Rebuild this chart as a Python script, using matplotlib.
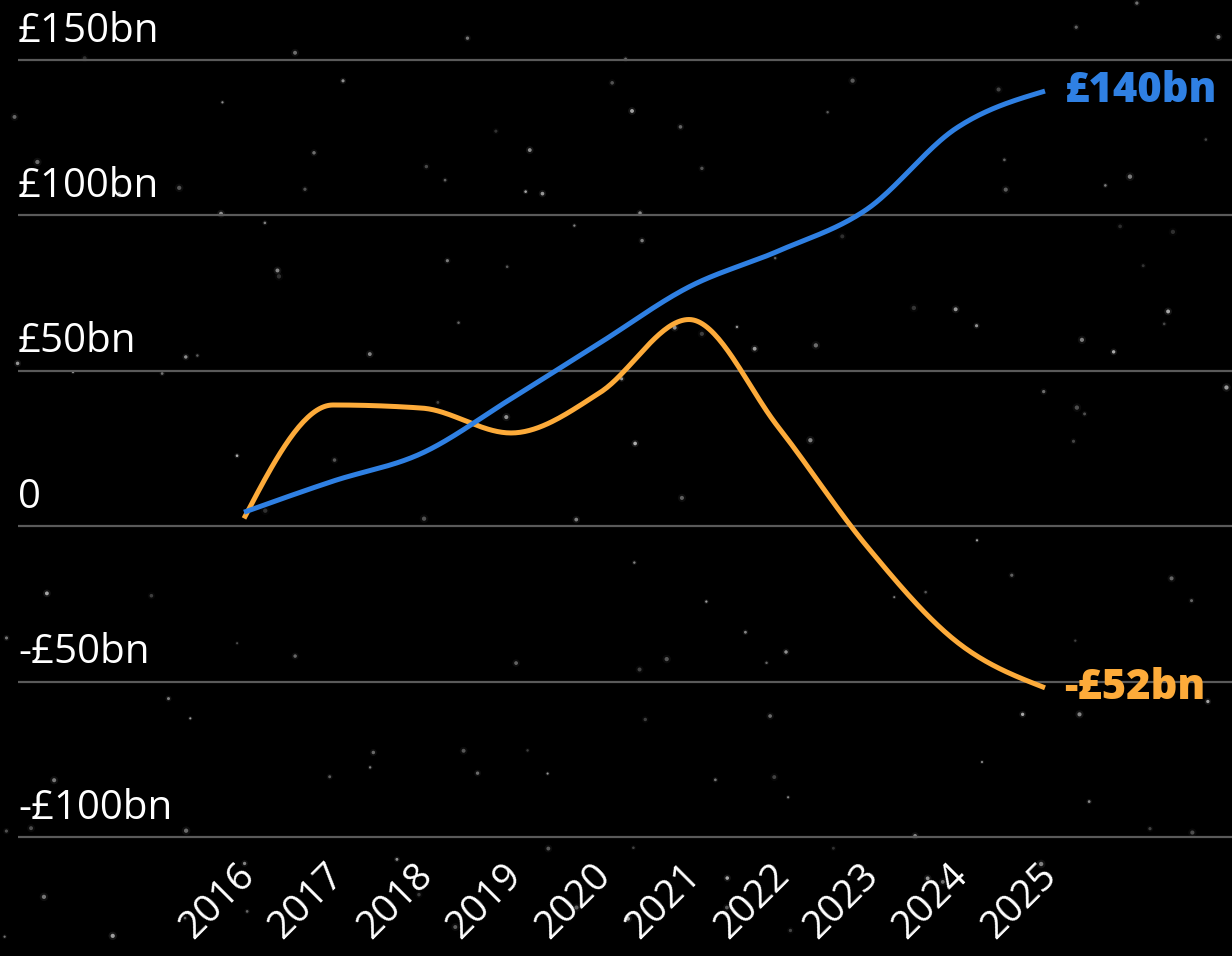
import numpy as np
import matplotlib
matplotlib.use('Agg')
import matplotlib.pyplot as plt
import matplotlib.transforms as mtransforms

years = [2016, 2017, 2018, 2019, 2020, 2021, 2022, 2023, 2024, 2025]
blue_values = [4.5, 14.5, 23.5, 41, 59, 77, 88.5, 102, 128, 140]
orange_values = [2.5, 39, 38, 30, 43, 66.5, 32, -6.5, -37, -52]
y_ticks = [150, 100, 50, 0, -50, -100]
y_tick_labels = ['£150bn', '£100bn', '£50bn', '0', '-£50bn', '-£100bn']
blue_label = '£140bn'
orange_label = '-£52bn'

BLUE = '#2f80e3'
ORANGE = '#fdab3a'


def monotone_curve(x, y, n=40):
    # d3-style monotoneX smoothing, only for drawing the line
    x = np.asarray(x, float)
    y = np.asarray(y, float)
    h = np.diff(x)
    s = np.diff(y) / h
    m = np.zeros(len(x))
    for i in range(1, len(x) - 1):
        p = (s[i - 1] * h[i] + s[i] * h[i - 1]) / (h[i - 1] + h[i])
        m[i] = (np.sign(s[i - 1]) + np.sign(s[i])) * min(abs(s[i - 1]), abs(s[i]), 0.5 * abs(p))
    m[0] = (3 * s[0] - m[1]) / 2
    m[-1] = (3 * s[-1] - m[-2]) / 2
    xs, ys = [], []
    for i in range(len(x) - 1):
        t = np.linspace(0, 1, n)
        h00 = 2 * t**3 - 3 * t**2 + 1
        h10 = t**3 - 2 * t**2 + t
        h01 = -2 * t**3 + 3 * t**2
        h11 = t**3 - t**2
        xs.append(x[i] + t * h[i])
        ys.append(h00 * y[i] + h10 * h[i] * m[i] + h01 * y[i + 1] + h11 * h[i] * m[i + 1])
    return np.concatenate(xs), np.concatenate(ys)


plt.rcParams['font.family'] = ['Open Sans', 'DejaVu Sans']

W, H = 1232, 956
fig = plt.figure(figsize=(W / 100, H / 100), dpi=100, facecolor='black')

# starry background
bg = fig.add_axes([0, 0, 1, 1])
bg.set_facecolor('black')
bg.set_xlim(0, 1)
bg.set_ylim(0, 1)
bg.axis('off')
rng = np.random.default_rng(7)
n_stars = 150
sx, sy = rng.random(n_stars), rng.random(n_stars)
sz = rng.uniform(2, 10, n_stars)
al = rng.uniform(0.15, 0.65, n_stars)
bg.scatter(sx, sy, s=sz * 4, color='white', alpha=al * 0.15, linewidths=0)
bg.scatter(sx, sy, s=sz, color='white', alpha=al, linewidths=0)

ax_left, ax_bottom_px = 18, 840
ax = fig.add_axes([ax_left / W, (H - ax_bottom_px) / H, 1 - ax_left / W, ax_bottom_px / H])
ax.patch.set_alpha(0)

px_per_unit = (837 - 60) / 250
px_per_year = (1045 - 244) / 9
ax.set_xlim(2016 - (244 - ax_left) / px_per_year, 2016 + (W - 244) / px_per_year)
ax.set_ylim(-100 - 3 / px_per_unit, 150 + 60 / px_per_unit)

for v in y_ticks:
    ax.axhline(v, color='#5a5a5a', lw=1.6, zorder=1)

trans = mtransforms.blended_transform_factory(ax.transAxes, ax.transData)
for v, lab in zip(y_ticks, y_tick_labels):
    ax.annotate(lab, (0, v), xycoords=trans, xytext=(0, 6), textcoords='offset points',
                ha='left', va='bottom', color='white', fontsize=29)

bx, by = monotone_curve(years, blue_values)
ox, oy = monotone_curve(years, orange_values)
ax.plot(ox, oy, color=ORANGE, lw=3.6, solid_capstyle='butt', zorder=3)
ax.plot(bx, by, color=BLUE, lw=3.6, solid_capstyle='butt', zorder=4)

ax.annotate(blue_label, (years[-1], blue_values[-1]), xytext=(14, 0), textcoords='offset points',
            ha='left', va='center', color=BLUE, fontsize=30, fontweight='heavy')
ax.annotate(orange_label, (years[-1], orange_values[-1]), xytext=(14, 0), textcoords='offset points',
            ha='left', va='center', color=ORANGE, fontsize=30, fontweight='heavy')

ax.set_xticks(years)
ax.set_xticklabels([str(y) for y in years], rotation=45, ha='right', rotation_mode='anchor',
                   color='white', fontsize=28)
ax.tick_params(axis='x', length=0, pad=12)
shift = mtransforms.ScaledTranslation(-8 / 100, 0, fig.dpi_scale_trans)
for lbl in ax.get_xticklabels():
    lbl.set_transform(lbl.get_transform() + shift)
ax.set_yticks([])
for sp in ax.spines.values():
    sp.set_visible(False)

fig.savefig('out.png', dpi=100, facecolor='black')
